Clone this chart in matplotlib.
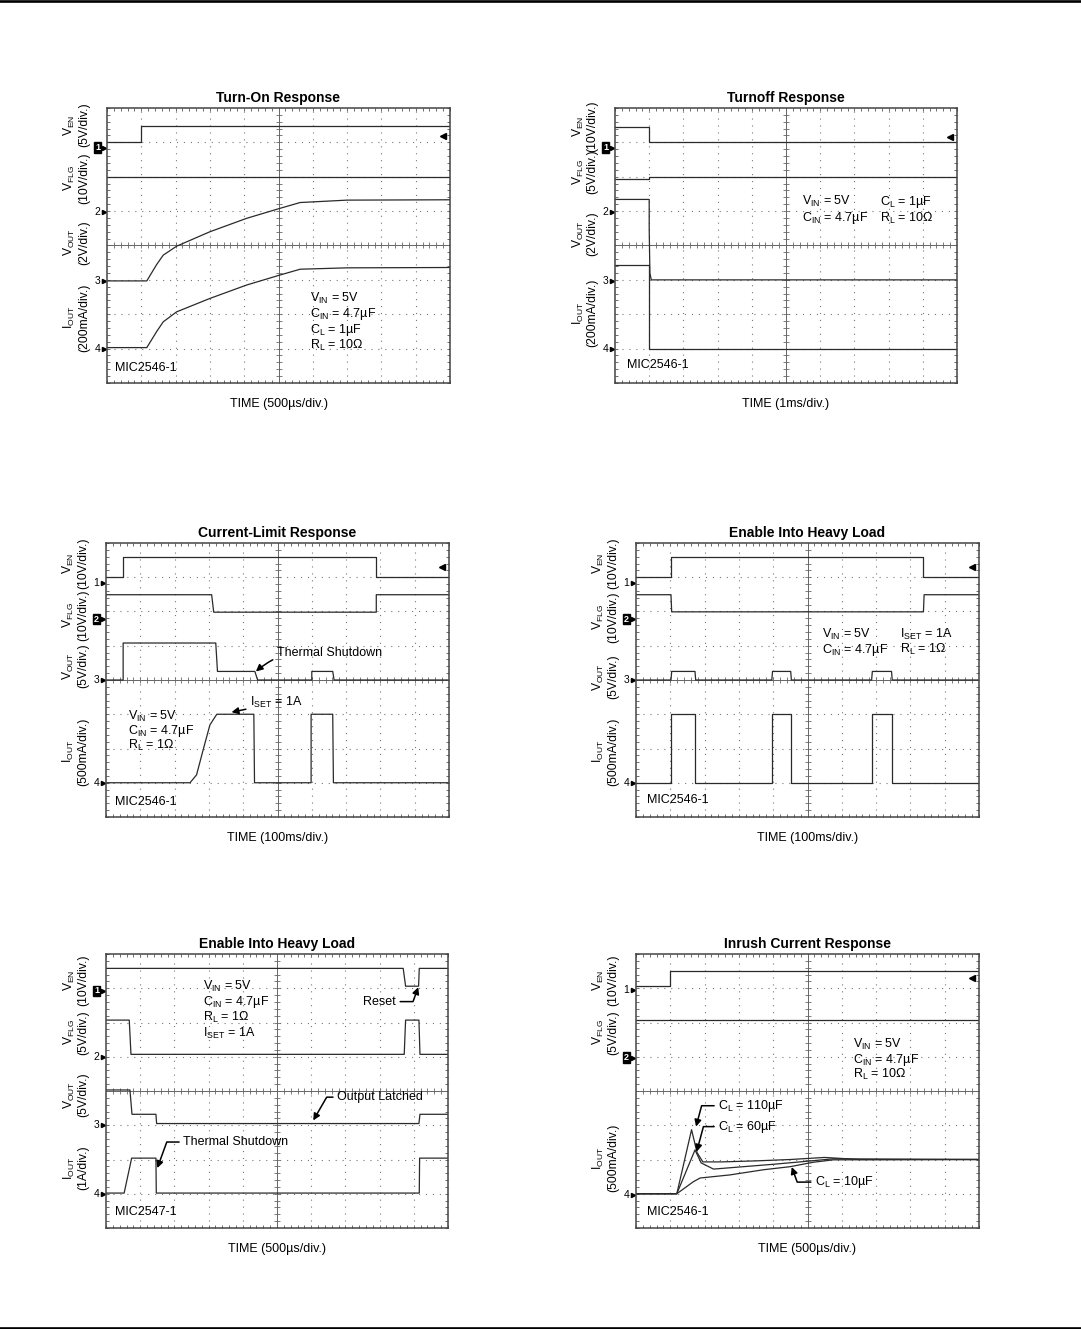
import matplotlib
matplotlib.use('Agg')
import matplotlib.pyplot as plt
import numpy as np
from matplotlib.lines import Line2D

plt.rcParams['font.family'] = ['Liberation Sans', 'DejaVu Sans']
plt.rcParams['mathtext.fontset'] = 'custom'
plt.rcParams['mathtext.rm'] = 'Liberation Sans'
plt.rcParams['lines.scale_dashes'] = False

# ---- data (scope divisions: x 0..10, y 0..8) ----
# Turn-On Response
ton_en_x = [0, 1.0, 1.0, 10]
ton_en_y = [7.0, 7.0, 7.47, 7.47]
ton_flg_x = [0, 10]
ton_flg_y = [5.98, 5.98]
ton_out_x = [0, 1.16, 1.45, 1.64, 2.03, 3.0, 4.07, 5.04, 5.63, 7.0, 10]
ton_out_y = [2.97, 2.97, 3.45, 3.72, 3.98, 4.40, 4.79, 5.08, 5.25, 5.32, 5.33]
ton_i_x = [0, 1.16, 1.45, 1.64, 2.03, 3.0, 4.07, 5.04, 5.63, 7.0, 10]
ton_i_y = [1.03, 1.03, 1.5, 1.78, 2.07, 2.46, 2.85, 3.14, 3.31, 3.35, 3.36]

# Turnoff Response
toff_en_x = [0, 1.0, 1.0, 10]
toff_en_y = [7.45, 7.45, 7.0, 7.0]
toff_flg_x = [0, 1.0, 1.0, 10]
toff_flg_y = [5.92, 5.92, 6.0, 6.0]
toff_out_x = [0, 1.0, 1.0, 1.02, 1.06, 10]
toff_out_y = [5.34, 5.34, 4.5, 3.2, 3.0, 3.0]
toff_i_x = [0, 1.0, 1.0, 10]
toff_i_y = [3.43, 3.43, 1.0, 1.0]

# Current-Limit Response
cl_en_x = [0, 0.5, 0.5, 7.87, 7.87, 10]
cl_en_y = [7.0, 7.0, 7.58, 7.58, 7.0, 7.0]
cl_flg_x = [0, 3.08, 3.14, 7.88, 7.88, 10]
cl_flg_y = [6.49, 6.49, 5.98, 5.98, 6.49, 6.49]
cl_out_x = [0, 0.5, 0.5, 3.2, 3.25, 4.34, 4.42, 6.0, 6.0, 6.61, 6.65, 10]
cl_out_y = [4.0, 4.0, 5.08, 5.08, 4.25, 4.25, 4.0, 4.0, 4.25, 4.25, 4.0, 4.0]
cl_i_x = [0, 2.45, 2.64, 2.84, 3.03, 3.23, 4.31, 4.33, 5.98, 5.98, 6.61, 6.63, 10]
cl_i_y = [1.0, 1.0, 1.23, 1.99, 2.69, 3.0, 3.0, 1.0, 1.0, 3.0, 3.0, 1.0, 1.0]

# Enable Into Heavy Load (MIC2546)
eh_en_x = [0, 1.02, 1.02, 8.38, 8.38, 10]
eh_en_y = [7.0, 7.0, 7.58, 7.58, 7.0, 7.0]
eh_flg_x = [0, 1.02, 1.04, 8.38, 8.4, 10]
eh_flg_y = [6.49, 6.49, 5.99, 5.99, 6.49, 6.49]
eh_out_x = [0, 1.02, 1.04, 1.72, 1.74, 3.96, 3.98, 4.51, 4.53, 6.87, 6.89, 7.45, 7.47, 10]
eh_out_y = [4.0, 4.0, 4.25, 4.25, 4.0, 4.0, 4.25, 4.25, 4.0, 4.0, 4.25, 4.25, 4.0, 4.0]
eh_i_x = [0, 1.02, 1.02, 1.72, 1.72, 3.96, 3.96, 4.51, 4.51, 6.87, 6.87, 7.45, 7.45, 10]
eh_i_y = [1.0, 1.0, 3.0, 3.0, 1.0, 1.0, 3.0, 3.0, 1.0, 1.0, 3.0, 3.0, 1.0, 1.0]

# Enable Into Heavy Load (MIC2547)
el_en_x = [0, 8.69, 8.76, 9.14, 9.16, 10]
el_en_y = [7.58, 7.58, 7.06, 7.06, 7.58, 7.58]
el_flg_x = [0, 0.68, 0.73, 8.72, 8.76, 9.15, 9.18, 10]
el_flg_y = [6.07, 6.07, 5.07, 5.07, 6.07, 6.07, 5.07, 5.07]
el_out_x = [0, 0.70, 0.76, 1.46, 1.48, 9.15, 9.18, 10]
el_out_y = [4.03, 4.03, 3.32, 3.32, 3.05, 3.05, 3.32, 3.32]
el_i_x = [0, 0.53, 0.75, 1.46, 1.47, 9.16, 9.17, 10]
el_i_y = [1.02, 1.02, 2.04, 2.04, 1.02, 1.02, 2.04, 2.04]

# Inrush Current Response
ir_en_x = [0, 0.99, 0.99, 10]
ir_en_y = [7.06, 7.06, 7.5, 7.5]
ir_flg_x = [0, 10]
ir_flg_y = [6.07, 6.07]
ir_110_x = [0, 1.19, 1.62, 1.78, 1.95, 2.5, 3.5, 4.5, 5.5, 6.5, 10]
ir_110_y = [1.0, 1.0, 2.87, 2.2, 1.93, 1.93, 1.96, 2.0, 2.06, 2.0, 2.0]
ir_60_x = [0, 1.19, 1.72, 1.9, 2.26, 3.0, 4.0, 5.0, 5.75, 10]
ir_60_y = [1.0, 1.0, 2.28, 1.9, 1.72, 1.78, 1.86, 1.95, 2.02, 2.0]
ir_10_x = [0, 1.19, 1.67, 1.87, 2.74, 3.71, 4.49, 5.17, 5.75, 10]
ir_10_y = [1.0, 1.0, 1.35, 1.46, 1.55, 1.70, 1.79, 1.92, 1.99, 2.0]

TR = '#2a2a2a'


def scope(rect, title, xlabel):
    ax = fig.add_axes(rect)
    ax.set_xlim(0, 10)
    ax.set_ylim(0, 8)
    ax.set_xticks(np.arange(0, 10.01, 0.2))
    ax.set_yticks(np.arange(0, 8.01, 0.2))
    ax.tick_params(direction='in', length=2.5, width=0.6, color='#555555',
                   top=True, right=True, labelbottom=False, labelleft=False)
    for s in ax.spines.values():
        s.set_color('#444444')
        s.set_linewidth(1.1)
    for gx in range(1, 10):
        if gx != 5:
            ax.axvline(gx, color='#777777', lw=0.8, ls=(0, (0.8, 4.2)))
    for gy in range(1, 8):
        if gy != 4:
            ax.axhline(gy, color='#777777', lw=0.8, ls=(0, (0.8, 4.2)))
    ax.axvline(5, color='#666666', lw=0.7)
    ax.axhline(4, color='#666666', lw=0.7)
    tx = np.arange(0.2, 10, 0.2)
    ty = np.arange(0.2, 8, 0.2)
    ax.plot(tx, np.full(len(tx), 4.0), ls='none', marker='|', ms=4, mew=0.6, color='#666666')
    ax.plot(np.full(len(ty), 5.0), ty, ls='none', marker='_', ms=4, mew=0.6, color='#666666')
    ax.set_title(title, fontsize=10, fontweight='bold', pad=4)
    ax.text(5, -0.6, xlabel, ha='center', va='center', fontsize=9, clip_on=False)
    return ax


def labels(ax, items):
    for txt, y in items:
        ax.text(-0.9, y, txt, rotation=90, ha='center', va='center', fontsize=8.7,
                multialignment='center', linespacing=1.05, clip_on=False)


def grounds(ax, items, trig=None):
    for num, y, boxed in items:
        if boxed:
            ax.text(-0.2, y, num, ha='right', va='center', fontsize=6.5, color='white',
                    fontweight='bold', bbox=dict(facecolor='black', edgecolor='black', pad=0.6),
                    clip_on=False)
        else:
            ax.text(-0.2, y, num, ha='right', va='center', fontsize=7.5, clip_on=False)
        ax.plot([-0.1], [y], marker='>', ms=3, color='black', clip_on=False)
    if trig is not None:
        ax.plot([9.8], [trig], marker='<', ms=4, color='black')


def trace(ax, x, y):
    ax.plot(x, y, color=TR, lw=0.9)


def note(ax, x, y, s, size=9):
    ax.text(x, y, s, ha='left', va='center', fontsize=size)


def arrow(ax, s, xy, xytext, cs='arc3', ha='left'):
    ax.annotate(s, xy=xy, xytext=xytext, fontsize=9, ha=ha, va='center',
                arrowprops=dict(arrowstyle='-|>', color='black', lw=1.1,
                                mutation_scale=10, connectionstyle=cs, shrinkA=1, shrinkB=0))


fig = plt.figure(figsize=(10.81, 13.29), dpi=100)
W, H = 1081.0, 1329.0


def rect(x0, y0, x1, y1):
    return [x0 / W, 1 - y1 / H, (x1 - x0) / W, (y1 - y0) / H]


VIN = r'$\mathregular{V_{IN}}$ = 5V'
CIN = r'$\mathregular{C_{IN}}$ = 4.7µF'
LBL_EN = r'$\mathregular{V_{EN}}$'
LBL_FLG = r'$\mathregular{V_{FLG}}$'
LBL_OUT = r'$\mathregular{V_{OUT}}$'
LBL_I = r'$\mathregular{I_{OUT}}$'

# Panel 1
ax = scope(rect(107, 108, 450, 383), 'Turn-On Response', 'TIME (500µs/div.)')
trace(ax, ton_en_x, ton_en_y)
trace(ax, ton_flg_x, ton_flg_y)
trace(ax, ton_out_x, ton_out_y)
trace(ax, ton_i_x, ton_i_y)
labels(ax, [(LBL_EN + '\n(5V/div.)', 7.5), (LBL_FLG + '\n(10V/div.)', 5.95),
            (LBL_OUT + '\n(2V/div.)', 4.09), (LBL_I + '\n(200mA/div.)', 1.91)])
grounds(ax, [('1', 6.85, True), ('2', 4.97, False), ('3', 2.98, False), ('4', 1.0, False)], 7.19)
note(ax, 5.92, 2.46, VIN)
note(ax, 5.92, 2.0, CIN)
note(ax, 5.92, 1.54, r'$\mathregular{C_{L}}$ = 1µF')
note(ax, 5.92, 1.1, r'$\mathregular{R_{L}}$ = 10Ω')
note(ax, 0.23, 0.44, 'MIC2546-1')

# Panel 2
ax = scope(rect(615, 108, 957, 383), 'Turnoff Response', 'TIME (1ms/div.)')
trace(ax, toff_en_x, toff_en_y)
trace(ax, toff_flg_x, toff_flg_y)
trace(ax, toff_out_x, toff_out_y)
trace(ax, toff_i_x, toff_i_y)
labels(ax, [(LBL_EN + '\n(10V/div.)', 7.48), (LBL_FLG + '\n(5V/div.)', 6.14),
            (LBL_OUT + '\n(2V/div.)', 4.33), (LBL_I + '\n(200mA/div.)', 2.03)])
grounds(ax, [('1', 6.85, True), ('2', 4.97, False), ('3', 2.98, False), ('4', 1.0, False)], 7.16)
note(ax, 5.46, 5.27, VIN)
note(ax, 5.46, 4.79, CIN)
note(ax, 7.75, 5.27, r'$\mathregular{C_{L}}$ = 1µF')
note(ax, 7.75, 4.79, r'$\mathregular{R_{L}}$ = 10Ω')
note(ax, 0.34, 0.52, 'MIC2546-1')

# Panel 3
ax = scope(rect(106, 543, 449, 817), 'Current-Limit Response', 'TIME (100ms/div.)')
trace(ax, cl_en_x, cl_en_y)
trace(ax, cl_flg_x, cl_flg_y)
trace(ax, cl_out_x, cl_out_y)
trace(ax, cl_i_x, cl_i_y)
labels(ax, [(LBL_EN + '\n(10V/div.)', 7.42), (LBL_FLG + '\n(10V/div.)', 5.89),
            (LBL_OUT + '\n(5V/div.)', 4.42), (LBL_I + '\n(500mA/div.)', 1.91)])
grounds(ax, [('1', 6.83, False), ('2', 5.78, True), ('3', 4.0, False), ('4', 0.98, False)], 7.3)
note(ax, 0.65, 2.93, VIN)
note(ax, 0.65, 2.51, CIN)
note(ax, 0.65, 2.09, r'$\mathregular{R_{L}}$ = 1Ω')
arrow(ax, r'$\mathregular{I_{SET}}$ = 1A', (3.66, 3.06), (4.2, 3.33))
arrow(ax, 'Thermal Shutdown', (4.37, 4.25), (4.98, 4.79), 'arc3,rad=0.25')
note(ax, 0.26, 0.45, 'MIC2546-1')

# Panel 4
ax = scope(rect(636, 543, 979, 817), 'Enable Into Heavy Load', 'TIME (100ms/div.)')
trace(ax, eh_en_x, eh_en_y)
trace(ax, eh_flg_x, eh_flg_y)
trace(ax, eh_out_x, eh_out_y)
trace(ax, eh_i_x, eh_i_y)
labels(ax, [(LBL_EN + '\n(10V/div.)', 7.42), (LBL_FLG + '\n(10V/div.)', 5.84),
            (LBL_OUT + '\n(5V/div.)', 4.1), (LBL_I + '\n(500mA/div.)', 1.91)])
grounds(ax, [('1', 6.83, False), ('2', 5.78, True), ('3', 4.0, False), ('4', 0.98, False)], 7.3)
note(ax, 5.41, 5.34, VIN)
note(ax, 5.41, 4.88, CIN)
note(ax, 7.7, 5.34, r'$\mathregular{I_{SET}}$ = 1A')
note(ax, 7.7, 4.88, r'$\mathregular{R_{L}}$ = 1Ω')
note(ax, 0.31, 0.5, 'MIC2546-1')

# Panel 5
ax = scope(rect(106, 954, 448, 1228), 'Enable Into Heavy Load', 'TIME (500µs/div.)')
trace(ax, el_en_x, el_en_y)
trace(ax, el_flg_x, el_flg_y)
trace(ax, el_out_x, el_out_y)
trace(ax, el_i_x, el_i_y)
labels(ax, [(LBL_EN + '\n(10V/div.)', 7.24), (LBL_FLG + '\n(5V/div.)', 5.71),
            (LBL_OUT + '\n(5V/div.)', 3.89), (LBL_I + '\n(1A/div.)', 1.75)])
grounds(ax, [('1', 6.92, True), ('2', 5.0, False), ('3', 3.0, False), ('4', 1.0, False)])
note(ax, 2.85, 7.04, VIN)
note(ax, 2.85, 6.61, CIN)
note(ax, 2.85, 6.15, r'$\mathregular{R_{L}}$ = 1Ω')
note(ax, 2.85, 5.69, r'$\mathregular{I_{SET}}$ = 1A')
arrow(ax, 'Reset', (9.13, 7.03), (8.48, 6.61), 'angle,angleA=0,angleB=70', ha='right')
arrow(ax, 'Output Latched', (6.06, 3.14), (6.76, 3.82), 'angle,angleA=0,angleB=60')
arrow(ax, 'Thermal Shutdown', (1.5, 1.75), (2.26, 2.51), 'angle,angleA=0,angleB=70')
note(ax, 0.26, 0.48, 'MIC2547-1')

# Panel 6
ax = scope(rect(636, 954, 979, 1228), 'Inrush Current Response', 'TIME (500µs/div.)')
trace(ax, ir_en_x, ir_en_y)
trace(ax, ir_flg_x, ir_flg_y)
trace(ax, ir_110_x, ir_110_y)
trace(ax, ir_60_x, ir_60_y)
trace(ax, ir_10_x, ir_10_y)
labels(ax, [(LBL_EN + '\n(10V/div.)', 7.24), (LBL_FLG + '\n(5V/div.)', 5.71),
            (LBL_I + '\n(500mA/div.)', 2.04)])
grounds(ax, [('1', 6.95, False), ('2', 4.97, True), ('4', 0.97, False)], 7.3)
note(ax, 6.34, 5.36, VIN)
note(ax, 6.34, 4.91, CIN)
note(ax, 6.34, 4.47, r'$\mathregular{R_{L}}$ = 10Ω')
arrow(ax, r'$\mathregular{C_{L}}$ = 110µF', (1.75, 2.96), (2.4, 3.57), 'angle,angleA=0,angleB=75')
arrow(ax, r'$\mathregular{C_{L}}$ = 60µF', (1.77, 2.23), (2.4, 2.96), 'angle,angleA=0,angleB=75')
arrow(ax, r'$\mathregular{C_{L}}$ = 10µF', (4.54, 1.78), (5.22, 1.34), 'angle,angleA=0,angleB=-70')
note(ax, 0.31, 0.48, 'MIC2546-1')

# page rules
fig.add_artist(Line2D([0, 1], [1 - 1.3 / H, 1 - 1.3 / H], color='black', lw=1.9))
fig.add_artist(Line2D([0, 1], [1 - 1327.8 / H, 1 - 1327.8 / H], color='black', lw=1.9))

fig.savefig('out.png', dpi=100)
